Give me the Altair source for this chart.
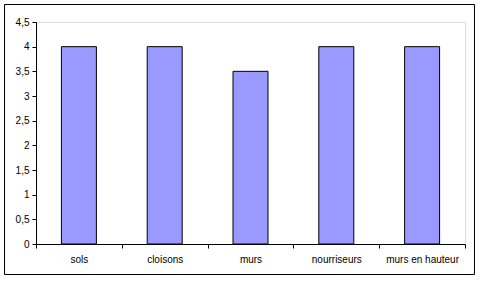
import altair as alt
import pandas as pd

categories = ["sols", "cloisons", "murs", "nourriseurs", "murs en hauteur"]
values = [4, 4, 3.5, 4, 4]
y_ticks = [0, 0.5, 1, 1.5, 2, 2.5, 3, 3.5, 4, 4.5]

df = pd.DataFrame({"cat": categories, "val": values})

bars = alt.Chart(df).mark_bar(
    size=35, color="#9999FF", stroke="black", strokeWidth=1
).encode(
    x=alt.X("cat:N", sort=categories, title=None,
            scale=alt.Scale(paddingInner=0, paddingOuter=0),
            axis=alt.Axis(labelAngle=0, tickBand="extent", domainColor="black",
                          tickColor="black", tickSize=4, labelPadding=6,
                          labelFont="Liberation Sans", labelFontSize=10,
                          labelColor="black", grid=False)),
    y=alt.Y("val:Q", title=None,
            scale=alt.Scale(domain=[0, 4.5], nice=False),
            axis=alt.Axis(values=y_ticks, domainColor="black", tickColor="black",
                          tickSize=4, labelPadding=3, grid=False,
                          labelFont="Liberation Sans", labelFontSize=10,
                          labelColor="black",
                          labelExpr="replace(toString(datum.value), '.', ',')")),
)

border = alt.Chart(alt.Data(values=[{}])).mark_rect(
    stroke="black", strokeWidth=1, fillOpacity=0
).encode(
    x=alt.value(-31.5), x2=alt.value(438.5),
    y=alt.value(-17.5), y2=alt.value(252.5),
)

chart = alt.layer(bars, border).properties(
    width=429, height=222,
    autosize=alt.AutoSizeParams(type="none"),
    padding={"left": 36, "top": 22, "right": 16, "bottom": 39},
).configure_view(stroke=None).configure(background="white")

chart.save("out.html", embed_options={"renderer": "svg", "actions": False})
